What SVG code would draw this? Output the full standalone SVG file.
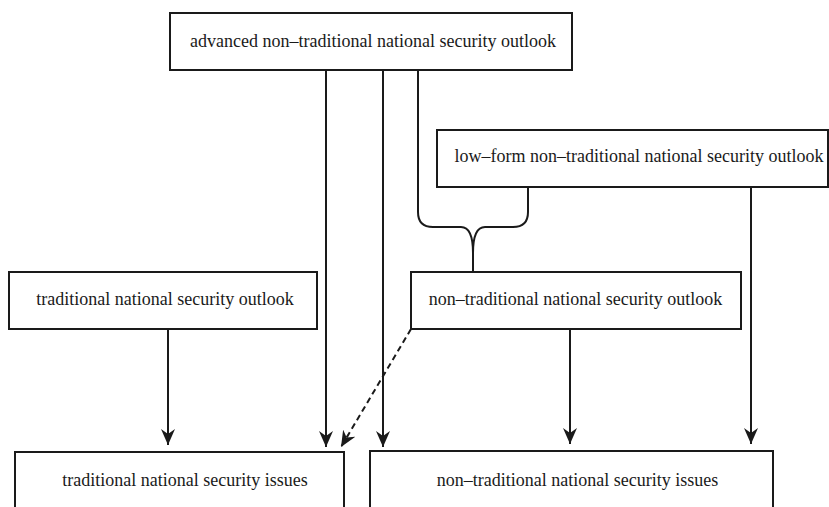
<svg xmlns="http://www.w3.org/2000/svg" width="829" height="507" viewBox="0 0 829 507">
<style>
.box{fill:#fff;stroke:#1a1a1a;stroke-width:2}
.t{font-family:'Liberation Serif','Times New Roman',serif;font-size:18px;fill:#1a1a1a;text-anchor:middle}
.c{fill:none;stroke:#1a1a1a;stroke-width:2}
.d{fill:none;stroke:#1a1a1a;stroke-width:2;stroke-dasharray:6 4}
</style>
<defs>
<marker id="ah" viewBox="0 0 16 14" refX="16" refY="7" markerWidth="16" markerHeight="14" markerUnits="userSpaceOnUse" orient="auto">
<path d="M0,0 L16,7 L0,14 L5,7 Z" fill="#1a1a1a"/>
</marker>
</defs>
<rect width="829" height="507" fill="#fff"/>
<g id="connectors">
<path class="c" d="M326,70 V447" marker-end="url(#ah)"/>
<path class="c" d="M383,70 V447" marker-end="url(#ah)"/>
<path class="c" d="M418,70 V212 Q418,227 433,227 H461 Q473,227 473,253 V272"/>
<path class="c" d="M528,187 V212 Q528,227 513,227 H485 Q473,227 473,253"/>
<path class="c" d="M751,187 V444" marker-end="url(#ah)"/>
<path class="c" d="M168,329 V445" marker-end="url(#ah)"/>
<path class="c" d="M570,329 V444" marker-end="url(#ah)"/>
<path class="d" d="M411,329 L341,447" marker-end="url(#ah)"/>
</g>
<g id="n_advanced">
<rect class="box" x="170" y="13" width="402" height="57"/>
<text class="t" x="373" y="47" font-family="Liberation Serif, serif">advanced non–traditional national security outlook</text>
</g>
<g id="n_lowform">
<rect class="box" x="437" y="130" width="391" height="57"/>
<text class="t" x="639" y="162">low–form non–traditional national security outlook</text>
</g>
<g id="n_trad_outlook">
<rect class="box" x="9" y="272" width="308" height="57"/>
<text class="t" x="165" y="305">traditional national security outlook</text>
</g>
<g id="n_nontrad_outlook">
<rect class="box" x="411" y="272" width="330" height="57"/>
<text class="t" x="575.5" y="305">non–traditional national security outlook</text>
</g>
<g id="n_trad_issues">
<rect class="box" x="15" y="452" width="329" height="70"/>
<text class="t" x="185" y="486">traditional national security issues</text>
</g>
<g id="n_nontrad_issues">
<rect class="box" x="370" y="451" width="403" height="70"/>
<text class="t" x="577.5" y="486">non–traditional national security issues</text>
</g>
</svg>
